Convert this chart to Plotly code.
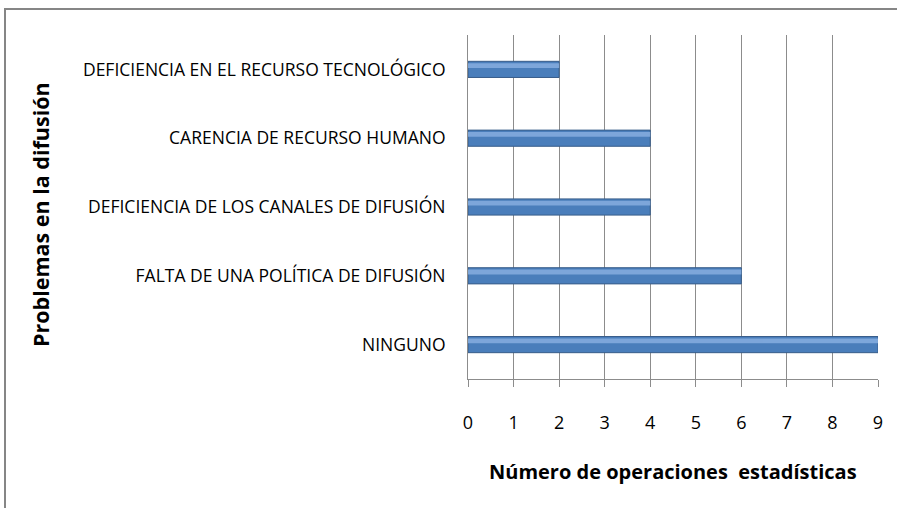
import plotly.graph_objects as go

categories = [
    "NINGUNO",
    "FALTA DE UNA POLÍTICA DE DIFUSIÓN",
    "DEFICIENCIA DE LOS CANALES DE DIFUSIÓN",
    "CARENCIA DE RECURSO HUMANO",
    "DEFICIENCIA EN EL RECURSO TECNOLÓGICO",
]
values = [9, 6, 4, 4, 2]
x_ticks = [0, 1, 2, 3, 4, 5, 6, 7, 8, 9]
x_title = "Número de operaciones  estadísticas"
y_title = "Problemas en la difusión"

FONT = "Open Sans"
W, H = 897, 508
L, R, T, B = 468, 19, 35, 129
pw, ph = W - L - R, H - T - B

fig = go.Figure()
# main bar body
fig.add_trace(go.Bar(
    y=categories, x=values, orientation="h", width=0.235,
    marker=dict(color="#4A7EBB", line=dict(color="#385D8A", width=1)),
    hoverinfo="x+y", showlegend=False,
))
# light highlight stripe (Excel-like gradient)
fig.add_trace(go.Bar(
    y=categories, x=values, orientation="h", width=0.07, offset=0.02,
    marker=dict(color="#86AEE0", line=dict(width=0)), opacity=0.85,
    hoverinfo="skip", showlegend=False,
))

fig.update_layout(
    width=W, height=H,
    margin=dict(l=L, r=R, t=T, b=B, autoexpand=False),
    barmode="overlay",
    paper_bgcolor="white", plot_bgcolor="white",
    font=dict(family=FONT, color="black"),
    xaxis=dict(
        range=[0, 9], tickvals=x_ticks, ticktext=[str(v) for v in x_ticks],
        showgrid=True, gridcolor="#8C8C8C", gridwidth=1,
        showline=True, linecolor="#8C8C8C", linewidth=1,
        ticks="outside", ticklen=7, tickcolor="#8C8C8C",
        tickfont=dict(size=18, family=FONT), ticklabelstandoff=20,
        zeroline=False, fixedrange=True,
    ),
    yaxis=dict(
        categoryorder="array", categoryarray=categories,
        showgrid=False, showline=True, linecolor="#8C8C8C", linewidth=1,
        ticks="", tickfont=dict(size=17.5, family=FONT),
        ticklabelstandoff=18, fixedrange=True,
    ),
    annotations=[
        dict(text="<b>" + x_title + "</b>", xref="paper", yref="paper",
             x=0.5, y=(H - 471 - B) / ph, xanchor="center", yanchor="middle",
             showarrow=False, font=dict(size=20, family=FONT)),
        dict(text="<b>" + y_title + "</b>", xref="paper", yref="paper",
             x=(40 - L) / pw, y=(H - B - 215) / ph, xanchor="center", yanchor="middle",
             textangle=-90, showarrow=False, font=dict(size=21.5, family=FONT)),
    ],
    shapes=[
        dict(type="rect", xref="paper", yref="paper",
             x0=(5 - L) / pw, x1=(W + 20 - L) / pw,
             y0=(H - B - (H + 20)) / ph, y1=(H - B - 9) / ph,
             line=dict(color="#868686", width=2), fillcolor="rgba(0,0,0,0)", layer="below"),
    ],
)

fig.write_html(
    "out.html",
    config={"displayModeBar": False},
    post_script="document.body.style.margin='0';document.body.style.padding='0';document.body.style.overflow='hidden';",
)
